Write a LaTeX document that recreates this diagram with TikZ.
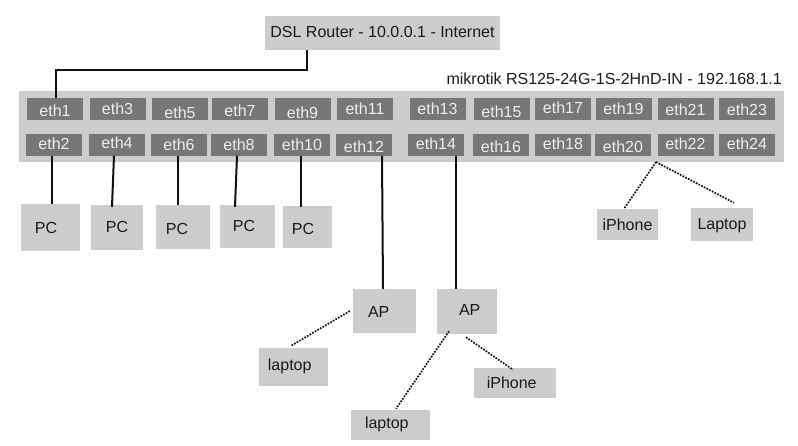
\documentclass[tikz,border=0pt]{standalone}
\usepackage{fontspec}
\setmainfont{Liberation Sans}
\definecolor{lgray}{HTML}{CCCCCC}
\definecolor{dgray}{HTML}{777777}
\definecolor{ptext}{HTML}{EEEEEE}
\definecolor{inkc}{HTML}{1A1A1A}
\definecolor{wirec}{HTML}{111111}
\newcommand\tofs[3]{\makebox[0pt]{\hspace*{#1}\hspace*{#1}\raisebox{#2}{#3}}}
\newcommand\fsz{\fontsize{16pt}{19pt}\selectfont}
\begin{document}
\begin{tikzpicture}[x=1pt,y=-1pt,
  box/.style={fill=lgray, text=inkc, inner sep=0pt, text height=11.5pt, text depth=0pt, font=\fsz},
  port/.style={fill=dgray, text=ptext, inner sep=0pt, minimum width=56pt, minimum height=21.5pt, text height=11.5pt, text depth=0pt, font=\fsz},
  wire/.style={draw=wirec, line width=2pt},
  wdot/.style={draw=wirec, line width=1.7pt, dash pattern=on 1.7pt off 1.3pt}]
\useasboundingbox (0,0) rectangle (798,445);
% router and switch
\node[box, minimum width=235pt, minimum height=34pt] (router) at (382.5,33) {\tofs{0pt}{1pt}{DSL Router - 10.0.0.1 - Internet}};
\node[box, minimum width=765pt, minimum height=71pt] (sw) at (401.5,126.5) {};
\node[text=inkc, inner sep=0pt, text height=11.5pt, text depth=0pt, font=\fsz, anchor=east] (ttl) at (782,79) {mikrotik RS125-24G-1S-2HnD-IN - 192.168.1.1};
% ports row 1
\node[port] (e1)  at (55,109)    {\tofs{0pt}{-1.8pt}{eth1}};
\node[port] (e3)  at (117.5,109) {\tofs{0pt}{0.5pt}{eth3}};
\node[port] (e5)  at (180,109)   {\tofs{0pt}{-3.5pt}{eth5}};
\node[port] (e7)  at (240,109)   {\tofs{0pt}{-1.8pt}{eth7}};
\node[port] (e9)  at (302.5,109) {\tofs{0pt}{-3.5pt}{eth9}};
\node[port] (e11) at (365,109)   {\tofs{0pt}{0.5pt}{eth11}};
\node[port] (e13) at (437.5,109) {\tofs{0pt}{0pt}{eth13}};
\node[port] (e15) at (501.5,109) {\tofs{0pt}{-2.8pt}{eth15}};
\node[port] (e17) at (563,109)   {\tofs{0pt}{1.7pt}{eth17}};
\node[port] (e19) at (623.5,109) {\tofs{0pt}{0pt}{eth19}};
\node[port] (e21) at (685.5,109) {\tofs{0pt}{-0.7pt}{eth21}};
\node[port] (e23) at (747,109)   {\tofs{0pt}{-0.7pt}{eth23}};
% ports row 2
\node[port] (e2)  at (54,144.8)    {\tofs{0pt}{1.5pt}{eth2}};
\node[port] (e4)  at (117,144.8)   {\tofs{0pt}{2.2pt}{eth4}};
\node[port] (e6)  at (179,144.8)   {\tofs{0pt}{0pt}{eth6}};
\node[port] (e8)  at (239,144.8)   {\tofs{0pt}{0pt}{eth8}};
\node[port] (e10) at (302,144.8)   {\tofs{0pt}{0pt}{eth10}};
\node[port] (e12) at (364,144.8)   {\tofs{0pt}{-1.8pt}{eth12}};
\node[port] (e14) at (436,144.8)   {\tofs{0pt}{0.7pt}{eth14}};
\node[port] (e16) at (501,144.8)   {\tofs{0pt}{-2pt}{eth16}};
\node[port] (e18) at (563,144.8)   {\tofs{0pt}{1pt}{eth18}};
\node[port] (e20) at (623,144.8)   {\tofs{0pt}{-1.7pt}{eth20}};
\node[port] (e22) at (685.5,144.8) {\tofs{0pt}{0.7pt}{eth22}};
\node[port] (e24) at (747,144.8)   {\tofs{0pt}{0.7pt}{eth24}};
% PCs
\node[box, minimum width=59pt, minimum height=47pt] (pc1) at (50.5,227.5) {\tofs{-4.5pt}{-0.5pt}{PC}};
\node[box, minimum width=52pt, minimum height=45pt] (pc2) at (117,227.5)  {\tofs{0pt}{0.7pt}{PC}};
\node[box, minimum width=54pt, minimum height=44pt] (pc3) at (183,227)    {\tofs{-6pt}{-1.5pt}{PC}};
\node[box, minimum width=55pt, minimum height=43pt] (pc4) at (247.5,226.5) {\tofs{-3.5pt}{1.2pt}{PC}};
\node[box, minimum width=49pt, minimum height=42pt] (pc5) at (307.5,227)  {\tofs{-4.5pt}{-1.3pt}{PC}};
% access points and clients
\node[box, minimum width=63pt, minimum height=44pt] (ap1) at (384.5,311) {\tofs{-5.8pt}{-0.3pt}{AP}};
\node[box, minimum width=60pt, minimum height=45pt] (ap2) at (467,311.5) {\tofs{2.7pt}{1.8pt}{AP}};
\node[box, minimum width=69pt, minimum height=38pt] (lap1) at (293.5,367) {\tofs{-3.8pt}{2.3pt}{laptop}};
\node[box, minimum width=79pt, minimum height=30pt] (lap2) at (390.5,425) {\tofs{-3.7pt}{2pt}{laptop}};
\node[box, minimum width=82pt, minimum height=30pt] (iph2) at (515,383) {\tofs{-3.3pt}{0pt}{iPhone}};
\node[box, minimum width=61pt, minimum height=31pt] (iph1) at (627.5,224.5) {\tofs{0pt}{0pt}{iPhone}};
\node[box, minimum width=62pt, minimum height=33pt] (lapw) at (722,224.5) {\tofs{0pt}{0.7pt}{Laptop}};
% wired connectors
\coordinate (rj) at (307,70);
\draw[wire] (router.south -| rj) -- (rj) -| ([xshift=1pt]e1.north);
\draw[wire] ([xshift=-2pt]e2.south) -- ([xshift=1.5pt]pc1.north);
\draw[wire] ([xshift=-3pt]e4.south) -- ([xshift=-5pt,yshift=-2pt]pc2.north);
\draw[wire] ([xshift=-1pt]e6.south) -- ([xshift=-5pt]pc3.north);
\draw[wire] ([xshift=-2pt]e8.south) -- ([xshift=-12.5pt,yshift=-2pt]pc4.north);
\draw[wire] ([xshift=-1pt]e10.south) -- ([xshift=-6.5pt,yshift=-1pt]pc5.north);
\draw[wire] ([xshift=18pt]e12.south) -- ([xshift=-1.5pt]ap1.north);
\draw[wire] ([xshift=20pt]e14.south) -- ([xshift=-11pt]ap2.north);
% wireless connectors
\coordinate (wf) at (656,162);
\draw[wdot] (wf) -- ([xshift=-3.5pt]iph1.north);
\draw[wdot] (wf) -- ([xshift=12pt,yshift=5pt]lapw.north);
\draw[wdot] ([xshift=-3pt]ap1.west) -- ([xshift=-2.5pt,yshift=2pt]lap1.north);
\draw[wdot] ([xshift=-18pt,yshift=3pt]ap2.south) -- ([xshift=5.5pt,yshift=1pt]lap2.north);
\draw[wdot] ([xshift=-1pt,yshift=-3pt]ap2.south) -- ([xshift=-2pt,yshift=-2pt]iph2.north);
\end{tikzpicture}
\end{document}
